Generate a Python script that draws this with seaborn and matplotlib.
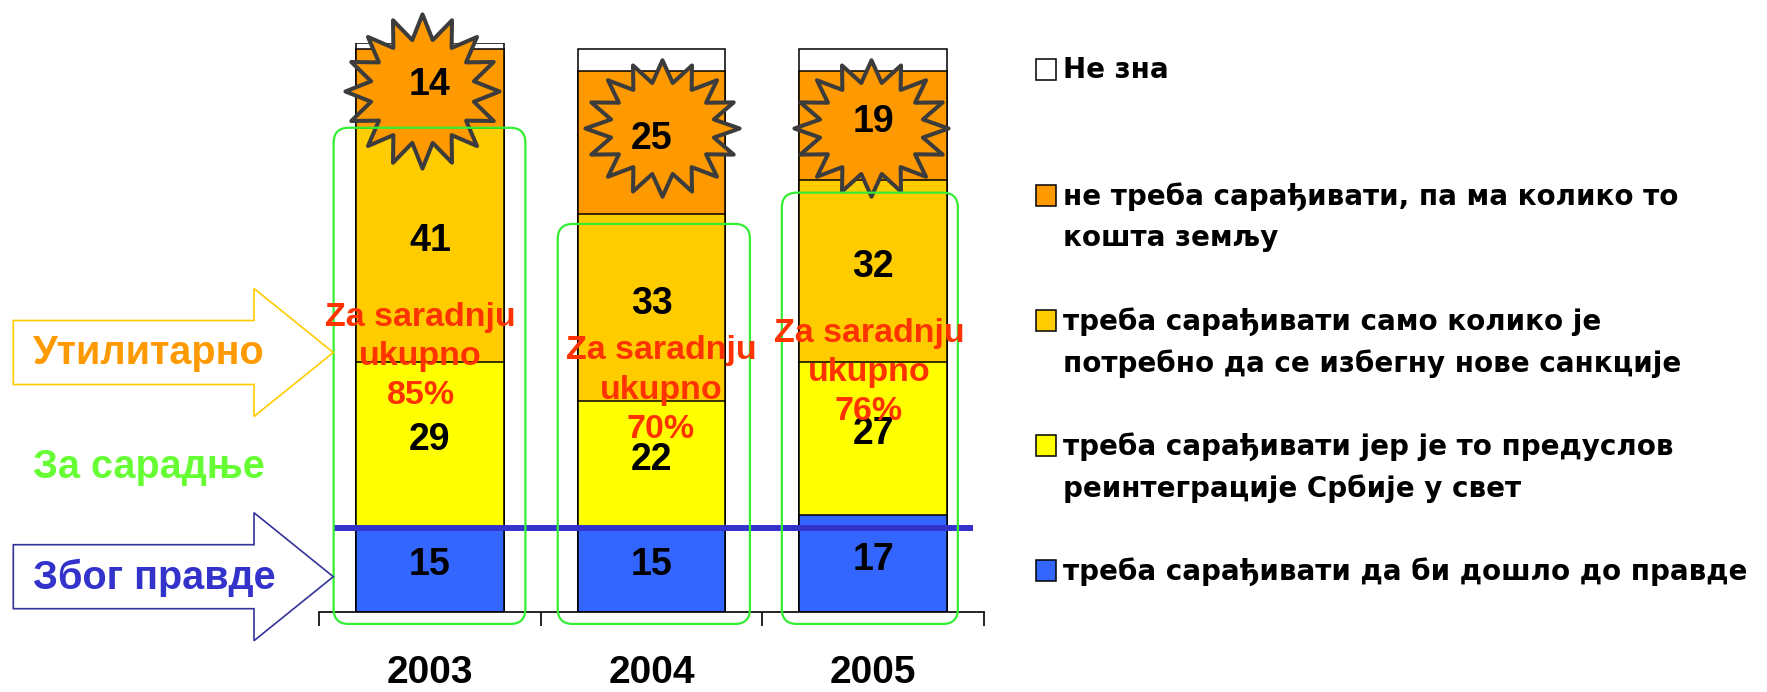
import numpy as np
import matplotlib
matplotlib.use('Agg')
import matplotlib.pyplot as plt
from matplotlib.patches import FancyBboxPatch, Polygon, Rectangle
from matplotlib.path import Path
import seaborn as sns

# data
years = ['2003', '2004', '2005']
pravda = [15, 15, 17]
reintegracija = [29, 22, 27]
sankcije = [41, 33, 32]
ne_treba = [14, 25, 19]
ne_zna = [1, 4, 4]
ukupno = [85, 70, 76]

legend_labels = [
    'Не зна',
    'не треба сарађивати, па ма колико то\nкошта земљу',
    'треба сарађивати само колико је\nпотребно да се избегну нове санкције',
    'треба сарађивати јер је то предуслов\nреинтеграције Србије у свет',
    'треба сарађивати да би дошло до правде',
]
side_labels = ['Утилитарно', 'За сарадње', 'Због правде']

colors = ['#3366FF', '#FFFF00', '#FFCC00', '#FF9900', '#FFFFFF']

sns.set_theme(style='white')
plt.rcParams['font.family'] = ['Liberation Sans', 'DejaVu Sans']

W, H = 1767, 692
fig = plt.figure(figsize=(W / 100, H / 100), dpi=100)


def fx(x):
    return x / W


def fy(y):
    return 1 - y / H


ax = fig.add_axes([fx(319), fy(612), 665 / W, 569 / H])

series = [pravda, reintegracija, sankcije, ne_treba, ne_zna]
cum = np.cumsum(np.array(series, dtype=float), axis=0)

# stacked bars: draw tallest cumulative first, then cover with lower ones
for k in range(len(series) - 1, -1, -1):
    sns.barplot(x=years, y=cum[k], color=colors[k], saturation=1, width=0.665,
                edgecolor='black', linewidth=1.1, errorbar=None, ax=ax, zorder=1)

ax.set_xlim(-0.5, 2.5)
ax.set_ylim(0, 100)
ax.set_xlabel('')
ax.set_ylabel('')
ax.set_yticks([])
for s in ['left', 'top', 'right']:
    ax.spines[s].set_visible(False)
ax.spines['bottom'].set_color('black')
ax.spines['bottom'].set_linewidth(1.2)
ax.set_xticks([-0.5, 0.5, 1.5, 2.5], labels=['', '', '', ''])
ax.set_xticks([0, 1, 2], labels=years, minor=True, fontsize=28, fontweight='bold')
ax.tick_params(axis='x', which='major', length=10, width=1.2, color='black', direction='out', bottom=True)
ax.tick_params(axis='x', which='minor', length=0, pad=31, bottom=True, labelcolor='black')

# 16 point starburst marker
n = 16
ang = np.linspace(0, 2 * np.pi, 2 * n, endpoint=False) + np.pi / 2
rad = np.where(np.arange(2 * n) % 2 == 0, 1.0, 0.68)
verts = np.column_stack([rad * np.cos(ang), rad * np.sin(ang)])
verts = np.vstack([verts, verts[:1]])

star_dx = [-0.035, 0.047, -0.01]
star_dy = [-0.5, 2.6, -0.5]
star_squash = [1.0, 0.885, 0.885]
for i in range(3):
    v = verts.copy()
    v[:, 1] *= star_squash[i]
    mid = cum[3][i] - ne_treba[i] / 2
    ax.plot(i + star_dx[i], mid + star_dy[i], marker=Path(v, closed=True), ms=111,
            mfc='#FF9900', mec='#3C3C3C', mew=2.9, zorder=4, clip_on=False)

# segment values
for k in range(4):
    for i in range(3):
        mid = cum[k][i] - series[k][i] / 2 + 0.7
        ax.text(i, mid, str(series[k][i]), ha='center', va='center', fontsize=27,
                fontweight='bold', color='black', zorder=6)

# blue line through the top of the "pravda" segment
ax.plot([-0.434, 2.45], [14.7, 14.7], color='#3333CC', lw=4.3, zorder=3.5,
        clip_on=False, solid_capstyle='butt')

# green rounded boxes around the "for cooperation" part
box_left = [-0.434, 0.577, 1.588]
box_right = [0.431, 1.444, 2.382]
box_top = [85.1, 68.2, 73.7]
aspect = 221.7 / 5.69
for i in range(3):
    b = FancyBboxPatch((box_left[i], -2.1), box_right[i] - box_left[i], box_top[i] + 2.1,
                       boxstyle='round,pad=0,rounding_size=0.068', mutation_aspect=aspect,
                       fill=False, edgecolor='#33EE33', lw=1.6, zorder=5, clip_on=False)
    ax.add_patch(b)

red_x = [-0.042, 1.043, 1.981]
red_y = [44.9, 39.0, 42.1]
for i in range(3):
    ax.text(red_x[i], red_y[i], 'Za saradnju\nukupno\n%d%%' % ukupno[i], ha='center',
            va='center', fontsize=24.5, fontweight='bold', color='#FF3300',
            linespacing=1.35, zorder=7)

# side arrows
def arrow(yc, edge):
    pts = [(13.3, yc - 32), (254, yc - 32), (254, yc - 64), (333.3, yc),
           (254, yc + 64), (254, yc + 32), (13.3, yc + 32)]
    fig.add_artist(Polygon([(fx(x), fy(y)) for x, y in pts], closed=True, fill=False,
                           edgecolor=edge, lw=1.2, transform=fig.transFigure))


arrow(352.5, '#FFCC00')
arrow(576.7, '#333399')
side_colors = ['#FF9900', '#66FF33', '#3333CC']
side_y = [353, 466.7, 578]
for lab, c, y in zip(side_labels, side_colors, side_y):
    fig.text(fx(33), fy(y), lab, ha='left', va='center', fontsize=28.5,
             fontweight='bold', color=c)

# legend, top entry is "Не зна"
leg_colors = colors[::-1]
leg_y = [70, 196.7, 321.7, 446.7, 571.7]
for lab, c, y0 in zip(legend_labels, leg_colors, leg_y):
    fig.add_artist(Rectangle((fx(1035.5), fy(y0 + 9.5)), 20 / W, 21 / H, facecolor=c,
                             edgecolor='black', lw=1.1, transform=fig.transFigure))
    for j, line in enumerate(lab.split('\n')):
        fig.text(fx(1062.7), fy(y0 + j * 41.5), line, ha='left', va='center',
                 fontsize=20, fontweight='bold', color='black', family='DejaVu Sans')

fig.savefig('out.png', dpi=100)
